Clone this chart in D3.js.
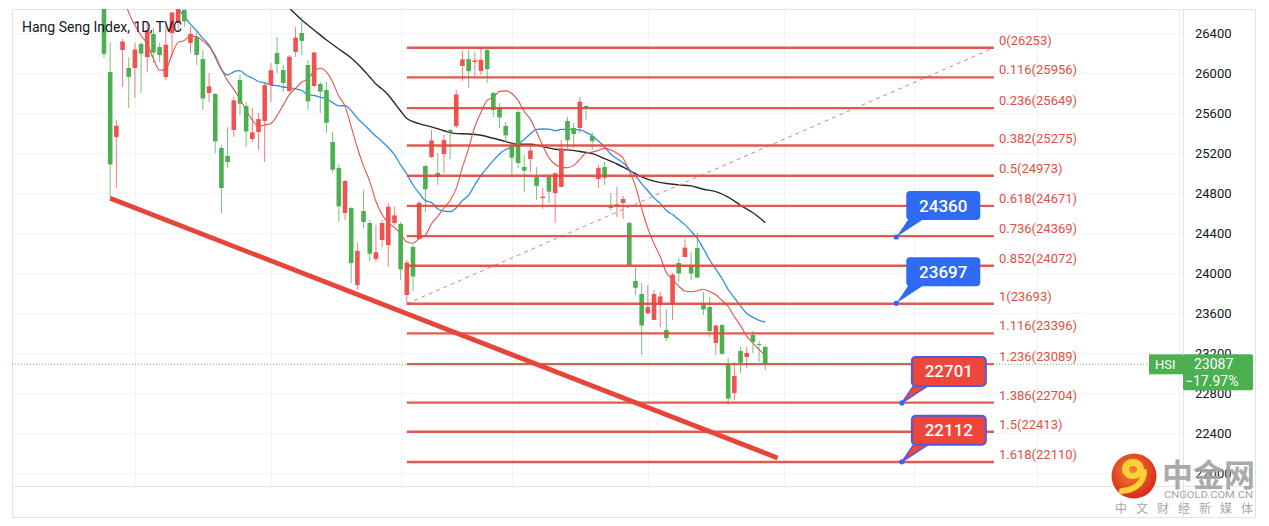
<!DOCTYPE html>
<html><head><meta charset="utf-8">
<script src="https://cdnjs.cloudflare.com/ajax/libs/d3/7.8.5/d3.min.js"></script>
<style>html,body{margin:0;padding:0;background:#fff;}svg{display:block;font-family:Roboto,"Noto Sans",sans-serif;}</style>
</head><body><svg id="c" width="1269" height="526"></svg>
<script>
// ---------- data (bar index 0 = first visible daily bar) ----------
const openV = [27330,26010,25360,26230,26050,26050,26290,26160,26390,26260,
 25960,26400,26500,26630,26300,26360,26140,25800,25790,25250,
 25170,25430,25930,25670,25340,25410,25520,25880,26200,26030,
 25820,26210,26400,26080,25870,25890,25830,25310,25050,24600,
 24650,23880,24620,24500,24140,24330,24280,24500,24490,23780,
 24260,24340,25070,25160,25000,25190,25430,25470,26070,26140,
 26110,26020,26230,25800,25650,25470,25270,25610,25060,25140,
 24960,24750,24960,24800,24860,25520,25450,25450,25670,25370,
 24940,25060,24660,24670,24700,24500,23920,23790,23600,23530,
 23680,23430,23690,24100,24160,24080,24250,23700,23660,23300,
 23480,23090,22800,23220,23160,23380,23290,23260];
const highV = [27400,26310,25530,26340,26160,26300,26310,26500,26450,26300,
 26480,26610,26720,26700,26460,26430,26230,26000,25800,25280,
 25460,25760,25980,25710,25650,25600,25900,26100,26360,26080,
 26180,26460,26560,26130,26210,25910,25910,25410,25090,24930,
 24660,24300,24830,24530,24480,24530,24700,24660,24510,24130,
 24280,24720,25080,25430,25200,25380,25440,25830,26220,26230,
 26210,26250,26240,25810,25700,25510,25310,25630,25180,25260,
 25060,24850,24990,25010,25330,25560,25500,25760,25680,25410,
 25080,25110,24800,24860,24770,24510,24060,23900,23880,23830,
 23810,23640,24000,24150,24340,24210,24400,23810,23760,23480,
 23490,23150,23110,23260,23260,23420,23320,23280];
const lowV = [26150,24748,24850,25860,25650,25750,25800,26010,26100,26110,
 25930,26150,26420,26460,26200,26080,25630,25710,25200,24600,
 25050,25360,25580,25260,25310,25230,25110,25710,26000,25810,
 25810,26160,26180,25630,25860,25600,25400,25000,24510,24530,
 23900,23830,24450,24120,24110,24260,24060,24480,23930,23700,
 23820,24330,24610,25150,24880,25000,25140,25450,25920,25850,
 25960,25980,25900,25560,25450,25310,24980,25050,24810,25010,
 24730,24640,24700,24500,24860,25230,25250,25400,25530,25230,
 24850,24880,24630,24560,24540,24070,23780,23180,23580,23530,
 23460,23320,23530,23910,24160,23930,23950,23580,23360,23180,
 23180,22680,22730,23000,23050,23200,23110,23030];
const closeV = [26192,25086,25473,26315,25961,26235,26194,26426,26204,26179,
 26283,26605,26660,26517,26391,26181,25745,25867,25316,24849,
 25109,25727,25693,25415,25407,25539,25879,26028,26090,25901,
 26163,26353,26321,25716,26205,25814,25502,25033,24667,24920,
 24099,24221,24510,24192,24208,24500,24663,24576,24036,24104,
 23966,24701,24837,25325,24962,25330,25409,25787,26136,26018,
 26126,26132,26038,25628,25555,25377,25154,25100,25024,25225,
 24871,24763,24813,24996,25247,25327,25390,25713,25650,25319,
 25049,24951,24652,24685,24740,24080,23852,23475,23658,23789,
 23766,23349,23983,23996,24254,23995,23954,23635,23420,23475,
 23192,22744,22971,23102,23200,23310,23280,23087];

// moving averages
const ma10Start = 3;
const ma10 = [26805,26604,26479,26372,26293,26141,26027,
 26036,26188,26306,26326,26369,26364,26319,26263,26174,26041,
 25924,25836,25740,25629,25531,25467,25480,25496,25574,25679,
 25784,25847,25910,25940,26020,26047,26009,25910,25768,25669,
 25463,25250,25069,24916,24717,24585,24501,24456,24393,24311,
 24298,24346,24378,24492,24567,24650,24725,24846,25056,25247,
 25463,25606,25726,25757,25816,25821,25795,25726,25615,25536,
 25410,25274,25151,25088,25057,25052,25076,25137,25200,25209,
 25227,25246,25229,25198,25148,25023,24869,24645,24446,24293,
 24165,24005,23938,23869,23820,23812,23822,23838,23814,23783,
 23725,23665,23564,23474,23369,23300,23233,23178];
const ma20Start = 11;
const ma20 = [26696,26639,26565,26487,26421,26346,26278,26158,26034,
 25980,26012,26023,25978,25950,25915,25900,25880,25874,25860,
 25854,25842,25825,25785,25775,25757,25745,25703,25671,25674,
 25624,25548,25489,25428,25368,25316,25255,25183,25080,24990,
 24880,24798,24724,24704,24642,24618,24613,24651,24724,24779,
 24880,24976,25052,25124,25191,25235,25260,25286,25335,25392,
 25437,25440,25439,25422,25436,25436,25435,25432,25407,25372,
 25319,25260,25190,25143,25102,25037,24972,24891,24823,24751,
 24696,24625,24584,24534,24484,24417,24346,24242,24130,24038,
 23945,23835,23751,23672,23595,23556,23527,23508];
const ma50Idx = [30,32,34,36,38,40,42,43,44,45,46,47,48,49,51,53,55,57,59,61,63,65,67,69,71,73,75,77,79,81,83,85,87,89,91,93,95,97,99,101,103,105,107];
const ma50Val = [26650,26530,26430,26330,26240,26150,26030,25960,25890,25840,25780,25700,25620,25545,25493,25461,25423,25394,25390,25377,25347,25314,25287,25288,25264,25238,25231,25215,25194,25144,25090,25026,24962,24919,24895,24881,24871,24838,24814,24759,24677,24602,24505];

// Fibonacci extension
const fibRatios = ["0","0.116","0.236","0.382","0.5","0.618","0.736","0.852","1","1.116","1.236","1.386","1.5","1.618"];
const fibValues = [26253,25956,25649,25275,24973,24671,24369,24072,23693,23396,23089,22704,22413,22110];
const fibStartIdx = 49, fibEndIdx = 144;

// thick support trend line [index, value]
const trendStart = [1, 24748], trendEnd = [109, 22150];

// callouts
const calloutVal = [24360, 23697, 22701, 22112];
const calloutIdx = [128.2, 128.2, 129.1, 129.1];
const calloutKind = ["blue", "blue", "red", "red"];

// axes
const yTicks = [22000,22400,22800,23200,23600,24000,24400,24800,25200,25600,26000,26400];
const monthLabels = ["Aug","Sep","Oct","Nov","Dec","2022","Feb","Mar","Apr"];
const monthIdx = [5,27,48,66,88,110,131,151,174];

const lastPrice = 23087, lastChange = "\u221217.97%", symbol = "HSI";
const title = "Hang Seng Index, 1D, TVC";

// ---------- layout ----------
const L = 12, R = 1183, T = 9, B = 486, FR = 1256, FB = 518;
const svg = d3.select("#c");
const x = d3.scaleLinear().domain([-14.887, 174.595]).range([L, R]);
const y = d3.scaleLinear().domain([26640, 21870]).range([T, B]);

const UP = "#ef5350", DOWN = "#4caf50";
const FIB = "#e0483c";

const defs = svg.append("defs");
defs.append("clipPath").attr("id","plot").append("rect").attr("x",L).attr("y",T).attr("width",R-L).attr("height",B-T);
defs.append("clipPath").attr("id","xaxis").append("rect").attr("x",L).attr("y",B).attr("width",R-L).attr("height",FB-B);
const rg = defs.append("radialGradient").attr("id","logoG").attr("cx","45%").attr("cy","40%").attr("r","60%");
rg.append("stop").attr("offset","0%").attr("stop-color","#f5872b");
rg.append("stop").attr("offset","100%").attr("stop-color","#d9281c");

// frame
svg.append("rect").attr("x",L+0.5).attr("y",T+0.5).attr("width",FR-L-1).attr("height",FB-T-1)
  .attr("fill","#fff").attr("stroke","#e0e3eb");

// grid
const grid = svg.append("g");
grid.selectAll("line.h").data(yTicks).join("line")
  .attr("x1",L).attr("x2",R).attr("y1",d=>Math.round(y(d))+0.5).attr("y2",d=>Math.round(y(d))+0.5)
  .attr("stroke","#f0f3fa");
grid.selectAll("line.v").data(monthIdx).join("line")
  .attr("x1",d=>Math.round(x(d))+0.5).attr("x2",d=>Math.round(x(d))+0.5).attr("y1",T).attr("y2",B)
  .attr("stroke","#f0f3fa");

// axis borders
svg.append("line").attr("x1",L).attr("x2",FR).attr("y1",B+0.5).attr("y2",B+0.5).attr("stroke","#e0e3eb");
svg.append("line").attr("x1",R+0.5).attr("x2",R+0.5).attr("y1",T).attr("y2",FB).attr("stroke","#e0e3eb");

const plot = svg.append("g").attr("clip-path","url(#plot)");

// title
svg.append("text").attr("x",22).attr("y",32).attr("font-size",14).attr("fill","#131722").text(title);

// moving averages
const lineGen = d3.line().x(d=>x(d[0])).y(d=>y(d[1])).curve(d3.curveMonotoneX);
const ma50Pts = ma50Idx.map((d,i)=>[d, ma50Val[i]]);
const ma20Pts = ma20.map((v,i)=>[ma20Start+i, v]);
const ma10Pts = ma10.map((v,i)=>[ma10Start+i, v]);
plot.append("path").attr("d",lineGen(ma50Pts)).attr("fill","none").attr("stroke","#2a2a2a").attr("stroke-width",1.4);
plot.append("path").attr("d",lineGen(ma20Pts)).attr("fill","none").attr("stroke","#2f8fe0").attr("stroke-width",1.3);
plot.append("path").attr("d",lineGen(ma10Pts)).attr("fill","none").attr("stroke","#e5534b").attr("stroke-width",1.1);

// candles
const bars = closeV.map((c,i)=>({i, o:openV[i], h:highV[i], l:lowV[i], c}));
const cg = plot.append("g");
cg.selectAll("line").data(bars).join("line")
  .attr("x1",d=>x(d.i)).attr("x2",d=>x(d.i)).attr("y1",d=>y(d.h)).attr("y2",d=>y(d.l))
  .attr("stroke",d=>d.c>=d.o?UP:DOWN).attr("stroke-width",1).attr("opacity",0.75);
cg.selectAll("rect").data(bars).join("rect")
  .attr("x",d=>x(d.i)-2.3).attr("width",4.6)
  .attr("y",d=>y(Math.max(d.o,d.c))).attr("height",d=>Math.max(1,Math.abs(y(d.o)-y(d.c))))
  .attr("fill",d=>d.c>=d.o?UP:DOWN);

// fib dashed diagonal
plot.append("line").attr("x1",x(fibStartIdx)).attr("y1",y(fibValues[8])).attr("x2",x(fibEndIdx)).attr("y2",y(fibValues[0]))
  .attr("stroke","#ec7b72").attr("stroke-width",1).attr("stroke-dasharray","4 4");
// fib lines
plot.selectAll("line.fib").data(fibValues).join("line").attr("class","fib")
  .attr("x1",x(fibStartIdx)).attr("x2",x(fibEndIdx)).attr("y1",d=>y(d)).attr("y2",d=>y(d))
  .attr("stroke",FIB).attr("stroke-width",2.4).attr("opacity",0.9);
plot.selectAll("text.fib").data(fibValues).join("text").attr("class","fib")
  .attr("x",x(fibEndIdx)+5).attr("y",d=>y(d)-3).attr("font-size",13).attr("fill","#e0503f")
  .text((d,i)=>`${fibRatios[i]}(${d})`);

// last price dotted line
plot.append("line").attr("x1",L).attr("x2",R).attr("y1",y(lastPrice)).attr("y2",y(lastPrice))
  .attr("stroke","#4caf50").attr("stroke-width",1).attr("stroke-dasharray","1 2").attr("opacity",0.8);

// thick trend line
plot.append("line").attr("x1",x(trendStart[0])).attr("y1",y(trendStart[1])).attr("x2",x(trendEnd[0])).attr("y2",y(trendEnd[1]))
  .attr("stroke","#e8453a").attr("stroke-width",4.8).attr("stroke-linecap","butt");

// callouts
calloutVal.forEach((v,k)=>{
  const px = x(calloutIdx[k]), py = y(v);
  const blue = calloutKind[k]==="blue";
  const fill = blue ? "#2e6bf2" : "#ee463a";
  const stroke = blue ? "#2e6bf2" : "#4a5be6";
  const g = plot.append("g");
  g.append("path").attr("d",`M${px},${py} L${px+13},${py-19} L${px+29},${py-19} Z`)
    .attr("fill",fill).attr("stroke",stroke).attr("stroke-width",blue?0:1.5).attr("stroke-linejoin","round");
  g.append("rect").attr("x",px+10).attr("y",py-46).attr("width",74).attr("height",29).attr("rx",4)
    .attr("fill",fill).attr("stroke",stroke).attr("stroke-width",blue?0:2);
  g.append("circle").attr("cx",px).attr("cy",py).attr("r",2.6).attr("fill","#2e6bf2");
  g.append("text").attr("x",px+47).attr("y",py-31.5).attr("dominant-baseline","central").attr("text-anchor","middle")
    .attr("font-size",17).attr("font-weight",500).attr("fill","#fff").text(v);
});

// right axis
const yAxis = svg.append("g").attr("transform",`translate(${R},0)`)
  .call(d3.axisRight(y).tickValues(yTicks).tickSize(0).tickPadding(12).tickFormat(d3.format("d")));
yAxis.select(".domain").remove();
yAxis.selectAll("text").attr("font-size",13).attr("fill","#131722").attr("font-family","Roboto,sans-serif");

// bottom axis
const xAxis = svg.append("g").attr("transform",`translate(0,${B})`).attr("clip-path","url(#xaxis)")
  .call(d3.axisBottom(x).tickValues(monthIdx).tickSize(0).tickPadding(12).tickFormat((d,i)=>monthLabels[i]));
xAxis.select(".domain").remove();
xAxis.selectAll("text").attr("font-size",13).attr("fill","#131722").attr("font-family","Roboto,sans-serif")
  .attr("font-weight",(d,i)=>monthLabels[i]==="2022"?700:400);

// last price tag
const ly = y(lastPrice);
svg.append("rect").attr("x",R-34).attr("y",ly-10).attr("width",34).attr("height",20).attr("fill","#4caf50");
svg.append("text").attr("x",R-28).attr("y",ly+5).attr("font-size",13).attr("fill","#fff").text(symbol);
svg.append("rect").attr("x",R).attr("y",ly-10).attr("width",70).attr("height",36).attr("rx",2).attr("fill","#4caf50");
svg.append("text").attr("x",R+11).attr("y",ly+5).attr("font-size",14).attr("fill","#fff").text(lastPrice);
svg.append("text").attr("x",R+2).attr("y",ly+22).attr("font-size",14).attr("fill","#fff").text(lastChange);

// watermark logo
const lg = svg.append("g");
lg.append("circle").attr("cx",1134).attr("cy",476).attr("r",22.5).attr("fill","url(#logoG)");
lg.append("path").attr("d","M1133,459 a11,10 0 1,1 -0.1,0 Z M1133,466 a4,3.5 0 1,0 0.1,0 Z")
  .attr("fill","#fbd03a").attr("fill-rule","evenodd");
lg.append("path").attr("d","M1144,472 C1143,484 1134,490 1122,491")
  .attr("fill","none").attr("stroke","#fbd03a").attr("stroke-width",6).attr("stroke-linecap","round");
lg.append("text").attr("x",1162).attr("y",486).attr("font-size",31).attr("font-weight",700)
  .attr("font-family","'Noto Sans CJK SC',sans-serif").attr("fill","#a3a3a3").attr("opacity",0.92).text("中金网");
lg.append("text").attr("x",1164).attr("y",498).attr("font-size",9).attr("textLength",89).attr("lengthAdjust","spacingAndGlyphs")
  .attr("fill","#a3a3a3").text("CNGOLD.COM.CN");
lg.append("text").attr("x",1115).attr("y",513).attr("font-size",12).attr("textLength",138).attr("lengthAdjust","spacing")
  .attr("font-family","'Noto Sans CJK SC',sans-serif").attr("fill","#a8a8a8").text("中文财经新媒体");
</script>
</body></html>
